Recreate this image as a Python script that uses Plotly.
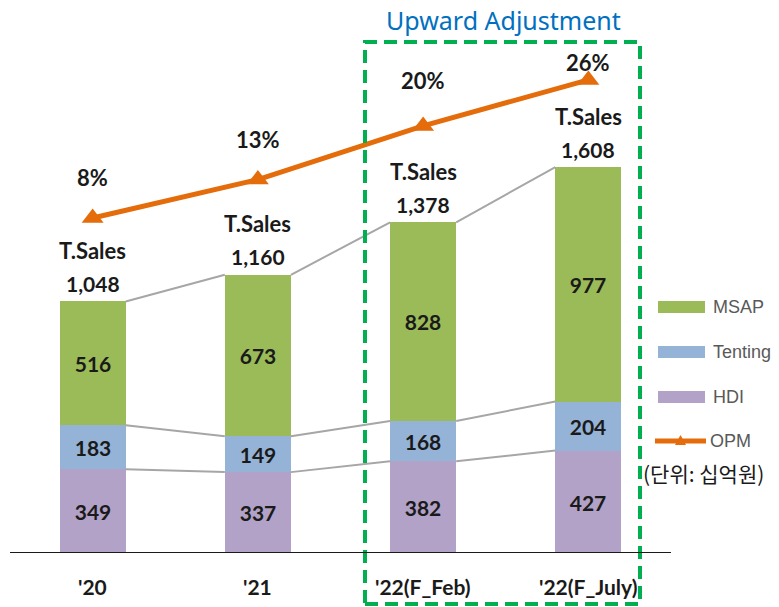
import plotly.graph_objects as go

categories = ["'20", "'21", "'22(F_Feb)", "'22(F_July)"]
hdi = [349, 337, 382, 427]
tenting = [183, 149, 168, 204]
msap = [516, 673, 828, 977]
total_sales = [1048, 1160, 1378, 1608]
opm = [8, 13, 20, 26]
opm_label_shift = [40, 40, 45, 17]

C_MSAP = "#9BBB59"
C_TENT = "#95B3D7"
C_HDI = "#B2A2C7"
C_OPM = "#E46C0A"
C_BOX = "#00B050"
FONT = "Lato"
TXT = "#1a1a1a"

x = list(range(len(categories)))
bw = 0.4

fig = go.Figure()
for name, vals, col in [("HDI", hdi, C_HDI), ("Tenting", tenting, C_TENT), ("MSAP", msap, C_MSAP)]:
    fig.add_trace(go.Bar(
        x=x, y=vals, name=name, marker=dict(color=col, line=dict(width=0)), width=bw,
        text=[str(v) for v in vals], textposition="inside", insidetextanchor="middle",
        textfont=dict(family=FONT, size=21, color=TXT, weight="bold"),
        showlegend=False, hoverinfo="skip"))

# connector lines between bars
lvl1 = hdi
lvl2 = [a + b for a, b in zip(hdi, tenting)]
lvl3 = [a + b + c for a, b, c in zip(hdi, tenting, msap)]
for lvl in (lvl1, lvl2, lvl3):
    for i in range(len(x) - 1):
        fig.add_trace(go.Scatter(
            x=[x[i] + bw / 2, x[i + 1] - bw / 2], y=[lvl[i], lvl[i + 1]],
            mode="lines", line=dict(color="#A6A6A6", width=2),
            showlegend=False, hoverinfo="skip"))

fig.add_trace(go.Scatter(
    x=x, y=opm, yaxis="y2", mode="lines+markers", name="OPM",
    line=dict(color=C_OPM, width=5),
    marker=dict(symbol="triangle-up", size=19, color=C_OPM),
    showlegend=False, hoverinfo="skip"))

ann = []
for i, v in enumerate(opm):
    ann.append(dict(x=x[i], y=v, yref="y2", text=f"{v}%", showarrow=False,
                    xanchor="center", yanchor="middle", yshift=opm_label_shift[i],
                    font=dict(family=FONT, size=22, color=TXT, weight="bold")))
for i, v in enumerate(total_sales):
    ann.append(dict(x=x[i], y=v, text=f"{v:,}", showarrow=False, yshift=18,
                    xanchor="center", yanchor="middle",
                    font=dict(family=FONT, size=21, color=TXT, weight="bold")))
    ann.append(dict(x=x[i], y=v, text="T.Sales", showarrow=False, yshift=51,
                    xanchor="center", yanchor="middle",
                    font=dict(family=FONT, size=22, color=TXT, weight="bold")))

# category labels
for i, c in enumerate(categories):
    ann.append(dict(x=x[i], y=0, text=c, showarrow=False, xanchor="center", yanchor="middle",
                    yshift=-33, font=dict(family=FONT, size=21, color=TXT, weight="bold")))

W, H = 779, 607
L, R, T, B = 10, 108, 40, 54
PW, PH = W - L - R, H - T - B
def px_x(p): return (p - L) / PW
def px_y(p): return (H - B - p) / PH

# title of highlighted region
ann.append(dict(x=px_x(503), y=px_y(20), xref="paper", yref="paper",
                xanchor="center", yanchor="middle",
                text="Upward Adjustment", showarrow=False,
                font=dict(family="Noto Sans", size=25, color="#0070C0")))

shapes = []
# dashed box
shapes.append(dict(type="rect", xref="paper", yref="paper", x0=px_x(365), x1=px_x(640),
                   y0=px_y(604), y1=px_y(42), line=dict(color=C_BOX, width=4, dash="13px,7px")))
# axis line
shapes.append(dict(type="line", xref="paper", yref="y", x0=0, x1=1, y0=0, y1=0,
                   line=dict(color=TXT, width=2)))

# custom legend
leg_items = [("MSAP", C_MSAP, 307), ("Tenting", C_TENT, 352), ("HDI", C_HDI, 397)]
for name, col, py in leg_items:
    shapes.append(dict(type="rect", xref="paper", yref="paper",
                       x0=px_x(658), x1=px_x(705), y0=px_y(py + 6), y1=px_y(py - 6),
                       fillcolor=col, line=dict(width=0)))
    ann.append(dict(x=px_x(711), y=px_y(py), xref="paper", yref="paper", text=name,
                    xanchor="left", yanchor="middle", showarrow=False,
                    font=dict(family="Liberation Sans", size=18, color="#595959")))
shapes.append(dict(type="line", xref="paper", yref="paper", x0=px_x(655), x1=px_x(706),
                   y0=px_y(441), y1=px_y(441), line=dict(color=C_OPM, width=5)))
shapes.append(dict(type="path", xref="paper", yref="paper",
                   path=f"M {px_x(675)},{px_y(445)} L {px_x(686)},{px_y(445)} L {px_x(680.5)},{px_y(435)} Z",
                   fillcolor=C_OPM, line=dict(width=0)))
ann.append(dict(x=px_x(708), y=px_y(441), xref="paper", yref="paper", text="OPM",
                xanchor="left", yanchor="middle", showarrow=False,
                font=dict(family="Liberation Sans", size=18, color="#595959")))
ann.append(dict(x=px_x(641), y=px_y(473), xref="paper", yref="paper", text="(단위: 십억원)",
                xanchor="left", yanchor="middle", showarrow=False,
                font=dict(family="Noto Sans CJK KR", size=21, color=TXT)))

fig.update_layout(
    width=W, height=H, barmode="stack", bargap=0,
    margin=dict(l=L, r=R, t=T, b=B),
    plot_bgcolor="white", paper_bgcolor="white",
    xaxis=dict(range=[-0.5, 3.5], showticklabels=False, showgrid=False, zeroline=False, fixedrange=True),
    yaxis=dict(range=[0, PH / 0.24], showticklabels=False, showgrid=False, zeroline=False),
    yaxis2=dict(range=[(279.3 - 553) / 7.67, (279.3 - 40) / 7.67], overlaying="y",
                showticklabels=False, showgrid=False, zeroline=False),
    annotations=ann, shapes=shapes, showlegend=False,
)

fig.write_html("out.html", config={"displayModeBar": False},
               post_script="document.body.style.margin='0';document.body.style.overflow='hidden';")
